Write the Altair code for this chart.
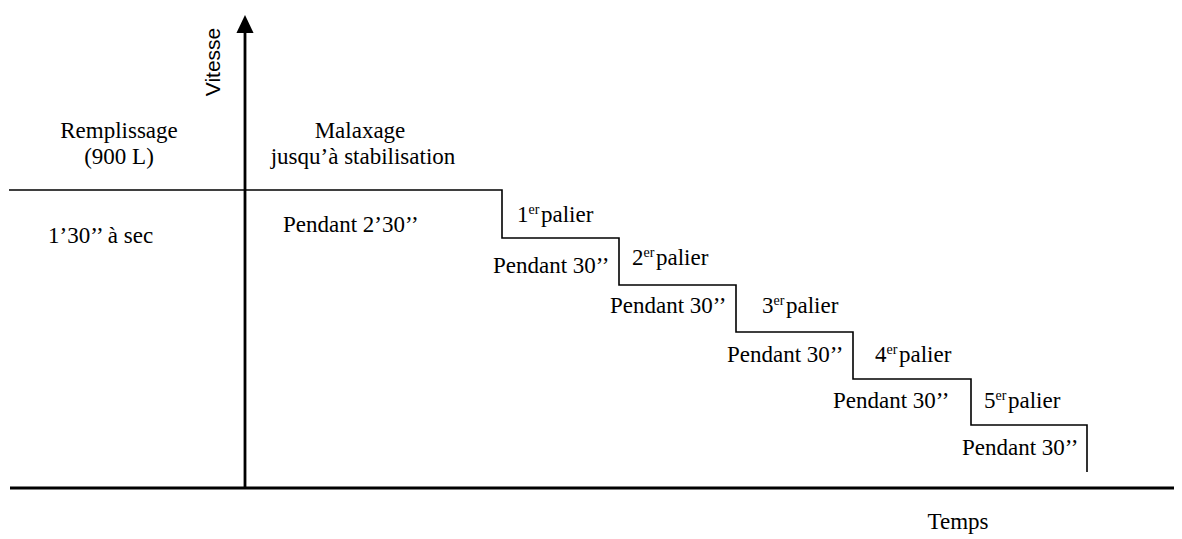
import altair as alt
import pandas as pd

# Schematic coordinates: x = time position (0 = vertical axis), y = speed (0 = time axis)
step_x = [-236, 257, 257, 374, 374, 491, 491, 608, 608, 726, 726, 842, 842]
step_y = [298, 298, 250, 250, 203, 203, 156, 156, 109, 109, 63, 63, 16]

# Axes extents
haxis_x = [-235, 935]
haxis_y = [0, 0]
vaxis_x = [0, 0]
vaxis_y = [0, 456]

# Centered labels
center_text = ["Remplissage", "(900 L)", "Malaxage", "jusqu\u2019\u00e0 stabilisation", "Temps"]
center_x = [-126, -126, 115, 118, 713]
center_y = [350, 324, 350, 324, -41]

# Left-aligned labels
left_text = ["1\u201930\u2019\u2019 \u00e0 sec", "Pendant 2\u201930\u2019\u2019",
             "Pendant 30\u2019\u2019", "Pendant 30\u2019\u2019", "Pendant 30\u2019\u2019",
             "Pendant 30\u2019\u2019", "Pendant 30\u2019\u2019"]
left_x = [-197, 38, 248, 365, 482, 588, 717]
left_y = [245, 256, 215, 175, 126, 80, 33]

# Step ("palier") labels
palier_num = ["1", "2", "3", "4", "5"]
palier_x = [272, 387, 517, 630, 739]
palier_y = [266, 223, 175, 126, 80]

XDOM = [-237, 929]
YDOM = [-51, 480]

def X(field="x"):
    return alt.X(f"{field}:Q", scale=alt.Scale(domain=XDOM, nice=False, zero=False), axis=None)

def Y(field="y"):
    return alt.Y(f"{field}:Q", scale=alt.Scale(domain=YDOM, nice=False, zero=False), axis=None)

SERIF = "Liberation Serif, Times New Roman, DejaVu Serif, serif"
FS = 23

step_df = pd.DataFrame({"x": step_x, "y": step_y, "o": list(range(len(step_x)))})
step = alt.Chart(step_df).mark_line(color="black", strokeWidth=1.6, clip=False).encode(
    x=X(), y=Y(), order="o:Q")

hax = alt.Chart(pd.DataFrame({"x": haxis_x, "y": haxis_y, "o": [0, 1]})).mark_line(
    color="black", strokeWidth=2.8, clip=False).encode(x=X(), y=Y(), order="o:Q")
vax = alt.Chart(pd.DataFrame({"x": vaxis_x, "y": vaxis_y, "o": [0, 1]})).mark_line(
    color="black", strokeWidth=2.8, clip=False).encode(x=X(), y=Y(), order="o:Q")

up_arrow = alt.Chart(pd.DataFrame({"x": [0], "y": [464]})).mark_point(
    shape="M-0.95,1L0,-1L0.95,1Z", size=324, filled=True, color="black", opacity=1, clip=False
).encode(x=X(), y=Y())
right_arrow = alt.Chart(pd.DataFrame({"x": [941], "y": [0]})).mark_point(
    shape="M-1,-0.95L1,0L-1,0.95Z", size=324, filled=True, color="black", opacity=1, clip=False
).encode(x=X(), y=Y())

ctext = alt.Chart(pd.DataFrame({"x": center_x, "y": center_y, "t": center_text})).mark_text(
    font=SERIF, fontSize=FS, align="center", baseline="alphabetic", color="black", clip=False
).encode(x=X(), y=Y(), text="t:N")

ltext = alt.Chart(pd.DataFrame({"x": left_x, "y": left_y, "t": left_text})).mark_text(
    font=SERIF, fontSize=FS, align="left", baseline="alphabetic", color="black", clip=False
).encode(x=X(), y=Y(), text="t:N")

pal_df = pd.DataFrame({"x": palier_x, "y": palier_y, "n": palier_num,
                       "sup": ["er"] * 5, "w": ["palier"] * 5})
pal_num = alt.Chart(pal_df).mark_text(
    font=SERIF, fontSize=FS, align="left", baseline="alphabetic", color="black", clip=False
).encode(x=X(), y=Y(), text="n:N")
pal_sup = alt.Chart(pal_df).mark_text(
    font=SERIF, fontSize=14, align="left", baseline="alphabetic", color="black", dx=11.5, dy=-8,
    clip=False
).encode(x=X(), y=Y(), text="sup:N")
pal_word = alt.Chart(pal_df).mark_text(
    font=SERIF, fontSize=FS, align="left", baseline="alphabetic", color="black", dx=24, clip=False
).encode(x=X(), y=Y(), text="w:N")

vit = alt.Chart(pd.DataFrame({"x": [-25], "y": [426], "t": ["Vitesse"]})).mark_text(
    font="Liberation Sans, Arial, DejaVu Sans, sans-serif", fontSize=21, align="center",
    baseline="alphabetic", angle=270, color="black", clip=False
).encode(x=X(), y=Y(), text="t:N")

chart = alt.layer(
    hax, vax, step, up_arrow, right_arrow, ctext, ltext, pal_num, pal_sup, pal_word, vit
).properties(
    width=1166, height=531, autosize=alt.AutoSizeParams(type="none"), padding=0
).configure_view(stroke=None)

chart.save("out.html", embed_options={"renderer": "svg", "actions": False})
